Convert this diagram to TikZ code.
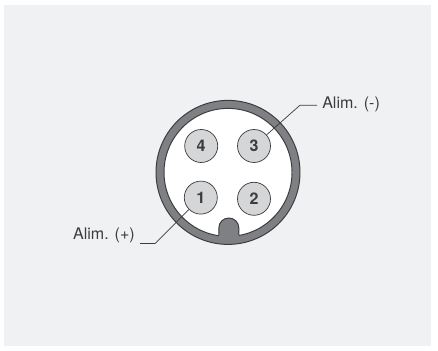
\documentclass[tikz,border=0pt]{standalone}
\usepackage{fontspec}
\setsansfont{TeX Gyre Heros}
\usetikzlibrary{positioning}
\definecolor{panelgray}{HTML}{F0F1F3}
\definecolor{ringgray}{HTML}{7F8083}
\definecolor{pingray}{HTML}{D5D6D7}
\definecolor{inkgray}{HTML}{3C3C3E}
\tikzset{
        pin/.style={circle, draw=inkgray, line width=.5pt, fill=pingray, minimum size=.825cm, inner sep=0pt,
                text=inkgray, font=\sffamily\bfseries\fontsize{11.4}{13}\selectfont},
        alim/.style={inner sep=.125cm, text=inkgray, font=\sffamily\fontsize{11.4}{13}\selectfont},
        leader/.style={draw=inkgray, line width=.5pt}
}
\begin{document}
\begin{tikzpicture}
        \useasboundingbox (0, 0) rectangle (10.95, 8.75);
        \fill[white] (0, 0) rectangle (10.95, 8.75);
        \fill[panelgray] (.1, .1) rectangle (10.78, 8.63);
        % connector body
        \draw[draw=inkgray, line width=.7pt, fill=ringgray] (5.7, 4.44) circle (1.8);
        \draw[draw=inkgray, line width=.7pt, fill=white] (5.7, 4.44) circle (1.6);
        \fill[ringgray] (5.47, 2.75) -- (5.47, 3.05) arc (180:0:.25) -- (5.97, 2.75) -- cycle;
        \draw[draw=inkgray, line width=.7pt] (5.47, 2.87) -- (5.47, 3.05) arc (180:0:.25) -- (5.97, 2.87);
        % pins
        \node[pin] (pin4) at (5.03, 5.1) {4};
        \node[pin] (pin3) at (6.35, 5.1) {3};
        \node[pin] (pin1) at (5.02, 3.81) {1};
        \node[pin] (pin2) at (6.35, 3.78) {2};
        % labels and leaders
        \node[alim, anchor=west] (alim3) at (7.925, 6.13) {Alim. (-)};
        \node[alim, anchor=east] (alim1) at (3.5, 2.87) {Alim. (+)};
        \coordinate (knee3) at (7.5, 6.12);
        \coordinate (knee1) at (3.875, 2.66);
        \draw[leader] (pin3) -- (knee3) -- (knee3 -| alim3.west);
        \draw[leader] (pin1) -- (knee1) -- (knee1 -| alim1.east);
\end{tikzpicture}
\end{document}
